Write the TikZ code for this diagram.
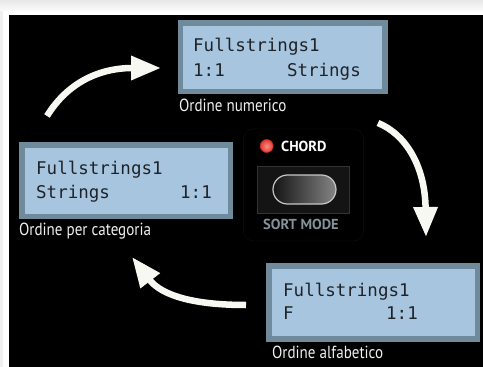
\documentclass[tikz,border=0pt]{standalone}
\usepackage{fontspec}
\setmainfont{PT Sans}
\newfontfamily\lcdfont{DejaVu Sans Mono}
\newfontfamily\labelfont[FakeStretch=0.86]{PT Sans}
\newfontfamily\panelfont{PT Sans Bold}
\usetikzlibrary{arrows.meta}

\definecolor{lcdframe}{HTML}{6F8A9B}
\definecolor{lcdface}{HTML}{A7C5DF}
\definecolor{lcdink}{HTML}{1E2328}
\definecolor{arrowwhite}{HTML}{F8F8F2}
\definecolor{sortgray}{HTML}{84929A}
\definecolor{ledred}{HTML}{E8372B}
\definecolor{paneledge}{HTML}{0B0B0B}

\tikzset{
  lcdbox/.style={draw=none, fill=lcdframe, inner sep=0pt},
  lcdline/.style={font=\lcdfont\fontsize{17.5}{17.5}\selectfont, text=lcdink,
                  inner sep=0pt},
  caption/.style={font=\labelfont\fontsize{17.5}{17.5}\selectfont,
                   text=white!94!black, inner sep=0pt, anchor=base west},
  paneltext/.style={font=\panelfont\fontsize{14.5}{14.5}\selectfont,
                    inner sep=0pt, anchor=base west},
  cyclearrow/.style={draw=arrowwhite, line width=6.5pt,
                     -{Triangle[length=30pt,width=23pt]}},
}

% fill the light face of an LCD inside its frame node
\newcommand{\lcdface}[1]{%
  \fill[lcdface] ([shift={(6,6)}]#1.north west)
    rectangle ([shift={(-5.5,-5.5)}]#1.south east);}

\begin{document}
\begin{tikzpicture}[x=1pt, y=-1pt]
  \useasboundingbox (0,0) rectangle (483,367);

  % page edge and black panel
  \fill[white] (0,0) rectangle (483,367);
  \shade[top color=black!9, bottom color=black!2] (0,0) rectangle (483,10.5);
  \fill[black!6] (0,10.5) rectangle (3,367);
  \fill[black] (8.6,14.6) rectangle (483,367);

  % --- LCD: numeric order (top)
  \node[lcdbox, minimum width=210.2pt, minimum height=73.8pt] (lcdnum) at (282.6,56.9) {};
  \lcdface{lcdnum}
  \node[lcdline, anchor=base west] (num1) at (193,51) {Fullstrings1};
  \node[lcdline, anchor=base west] (num2) at (193,76.5) {1:1};
  \node[lcdline, anchor=base east] (num3) at (361,76.5) {Strings};
  \node[caption] (capnum) at (179,111.5) {Ordine numerico};

  % --- LCD: category order (left)
  \node[lcdbox, minimum width=213.7pt, minimum height=77.6pt] (lcdcat) at (126.15,180.5) {};
  \lcdface{lcdcat}
  \node[lcdline, anchor=base west] (cat1) at (36,174.5) {Fullstrings1};
  \node[lcdline, anchor=base west] (cat2) at (36,198.5) {Strings};
  \node[lcdline, anchor=base east] (cat3) at (212,198.5) {1:1};
  \node[caption] (capcat) at (19,235) {Ordine per categoria};

  % --- LCD: alphabetical order (bottom right)
  \node[lcdbox, minimum width=214pt, minimum height=78.4pt] (lcdalf) at (373,302.5) {};
  \lcdface{lcdalf}
  \node[lcdline, anchor=base west] (alf1) at (283,296) {Fullstrings1};
  \node[lcdline, anchor=base west] (alf2) at (283,319) {F};
  \node[lcdline, anchor=base east] (alf3) at (418,319) {1:1};
  \node[caption] (capalf) at (272,358) {Ordine alfabetico};

  % --- sort mode control
  \node[draw=paneledge, fill=black, rounded corners=10pt, line width=0.6pt,
        minimum width=120pt, minimum height=112pt, inner sep=0pt] (panel) at (303.5,185) {};
  \node[circle, inner sep=0pt, minimum size=13pt, draw=ledred!80!black, line width=0.5pt,
        inner color=ledred!55!white, outer color=ledred] (led) at (266.7,146) {};
  \node[paneltext, text=white] (chord) at (281,151) {CHORD};
  \node[draw=black!80, fill=black!92, line width=1pt, inner sep=0pt,
        minimum width=92pt, minimum height=47pt] (housing) at (303,189.5) {};
  \node[draw=black!22, line width=1.2pt, rounded corners=14.5pt, inner sep=0pt,
        minimum width=63pt, minimum height=29pt,
        left color=black!92, right color=black!48] (button) at (304.5,189.5) {};
  \node[paneltext, text=sortgray] (sortmode) at (263,229.5) {SORT MODE};

  % --- cycle arrows
  \coordinate (a1s) at (47,116);
  \coordinate (a1e) at (161,68);
  \draw[cyclearrow] (a1s) .. controls (68,82) and (100,68) .. (a1e);

  \coordinate (a2s) at (378,123);
  \coordinate (a2e) at (426,237);
  \draw[cyclearrow] (a2s) .. controls (405,134) and (425,165) .. (a2e);

  \coordinate (a3s) at (246,305);
  \coordinate (a3e) at (132,257);
  \draw[cyclearrow] (a3s) .. controls (195,305) and (162,296) .. (a3e);
\end{tikzpicture}
\end{document}
